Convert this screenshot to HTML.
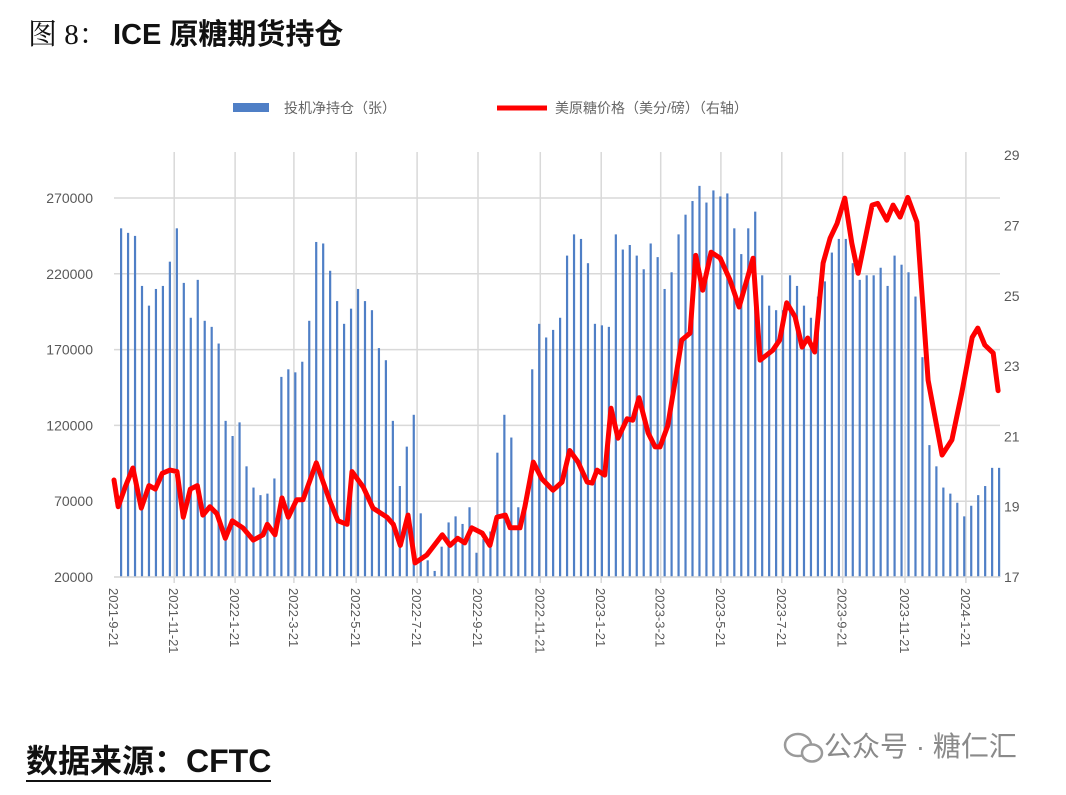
<!DOCTYPE html>
<html><head><meta charset="utf-8">
<style>
body{margin:0;background:#fff;width:1066px;height:790px;overflow:hidden;font-family:"Liberation Sans","Noto Sans CJK SC",sans-serif}
</style></head>
<body>
<svg id="c" width="1066" height="790" xmlns="http://www.w3.org/2000/svg">
<text x="28" y="44" font-size="29" fill="#111" font-family="'Liberation Serif','Noto Serif CJK SC',serif">图 8：</text>
<text x="113" y="44" font-size="29" font-weight="bold" fill="#111" font-family="'Liberation Sans','Noto Sans CJK SC',sans-serif">ICE 原糖期货持仓</text>
<g>
<rect x="233" y="103" width="36" height="9" fill="#4f7fc6"/>
<text x="284" y="113" font-size="14" fill="#666">投机净持仓（张）</text>
<line x1="497" y1="108" x2="547" y2="108" stroke="#ff0000" stroke-width="5"/>
<text x="555" y="113" font-size="14" fill="#666">美原糖价格（美分/磅）（右轴）</text>
</g>
<g id="grid"></g><g id="bars"></g><g id="line"></g><g id="axes"></g>
<text x="26" y="772" font-size="32" font-weight="bold" fill="#111">数据来源：CFTC</text>
<line x1="26" y1="781" x2="271" y2="781" stroke="#111" stroke-width="2"/>
<g fill="#9a9a9a">
<ellipse cx="798" cy="745" rx="13" ry="11" fill="none" stroke="#9a9a9a" stroke-width="2.5"/>
<ellipse cx="812" cy="753" rx="10" ry="8.5" fill="#fff" stroke="#9a9a9a" stroke-width="2.5"/>
<text x="824" y="756" font-size="28" fill="#8a8a8a">公众号 · 糖仁汇</text>
</g>
</svg>
<script>
const barValues=[250,247,245,212,199,210,212,228,250,214,191,216,189,185,174,123,113,122,93,79,74,75,85,152,157,155,162,189,241,240,222,202,187,197,210,202,196,171,163,123,80,106,127,62,31,24,40,56,60,55,66,36,45,50,102,127,112,66,70,157,187,178,183,
191,232,246,243,227,187,186,185,246,236,239,232,223,240,231,210,221,246,259,268,278,267,275,271,273,250,233,250,261,219,199,196,196,219,212,199,191,205,215,234,243,243,227,216,219,219,224,212,232,226,221,205,165,107,93,79,75,69,60,67,74,80,92,92];
const priceWeeks=[0,0.6,1.6,2.7,3.9,5,5.9,6.9,8,9,9.9,10.9,11.9,12.7,13.7,14.7,15.9,16.9,18.4,19.9,21.3,21.9,23,24,24.9,26.1,27,28.9,30.9,32,33.3,34,35.6,37,39,39.9,40.9,42,43,44.7,46.9,48,49.1,50.1,51.1,52.6,53.7,54.7,55.9,56.6,58,58.7,59.9,61.1,62.7,64,65.1,66.3,67.6,68.3,69,70.1,71,72,73.3,74.1,75,76.3,77.3,78,79.1,80.1,81.1,82.3,83.1,84.1,85.3,86.6,88,89.3,91.3,92.3,94.1,95.1,96.1,97.3,98.3,99.1,100.1,101.3,102.3,103.3,104.4,105.4,106.3,108.3,109.1,110.4,111.3,112.3,113.4,114.7,116.3,118.3,119.7,121.1,122.6,123.4,124.4,125.6,126.3];
const priceValues=[19.76,19.0,19.56,20.1,18.96,19.6,19.5,19.95,20.04,20.0,18.7,19.5,19.6,18.76,19.0,18.8,18.1,18.6,18.4,18.05,18.2,18.5,18.2,19.25,18.7,19.2,19.2,20.25,19.13,18.6,18.5,20.0,19.56,18.96,18.7,18.5,17.9,18.76,17.4,17.63,18.2,17.9,18.1,17.97,18.4,18.25,17.9,18.7,18.76,18.4,18.4,19.0,20.27,19.8,19.47,19.7,20.6,20.27,19.7,19.67,20.04,19.9,21.8,20.95,21.5,21.46,22.1,21.1,20.7,20.7,21.3,22.5,23.74,23.94,26.15,25.16,26.24,26.07,25.45,24.68,26.07,23.17,23.45,23.74,24.8,24.4,23.54,23.8,23.4,25.93,26.64,27.06,27.78,26.5,25.64,27.58,27.63,27.15,27.58,27.24,27.8,27.1,22.6,20.47,20.9,22.23,23.82,24.08,23.6,23.37,22.3];
const leftTicks=[20000,70000,120000,170000,220000,270000];
const rightTicks=[17,19,21,23,25,27,29];
const dateLabels=["2021-9-21","2021-11-21","2022-1-21","2022-3-21","2022-5-21","2022-7-21","2022-9-21","2022-11-21","2023-1-21","2023-3-21","2023-5-21","2023-7-21","2023-9-21","2023-11-21","2024-1-21"];
const dateWeeks=[0,8.6,17.3,25.7,34.6,43.3,52,60.9,69.6,78.1,86.7,95.4,104.1,113,121.7];

const NS="http://www.w3.org/2000/svg";
const X0=114,X1=1000,YB=577,YT=152;
const xW=w=>X0+w*7.0;
const yL=v=>YB-(v-20000)/50000*75.8;
const yR=v=>YB-(v-17)/2*70.3;
function mk(tag,attrs,parent){const e=document.createElementNS(NS,tag);for(const k in attrs)e.setAttribute(k,attrs[k]);parent.appendChild(e);return e;}
const grid=document.getElementById('grid'),bars=document.getElementById('bars'),line=document.getElementById('line'),axes=document.getElementById('axes');
leftTicks.forEach((t,i)=>{
  const y=yL(t);
  const g=mk('line',{x1:X0,x2:X1,y1:y,y2:y,stroke:'#d9d9d9','stroke-width':1.5},grid);
  
  
  const tx=mk('text',{x:93,y:y+5,'text-anchor':'end','font-size':14,fill:'#595959'},axes);
  tx.textContent=String(t);
  
  
});
rightTicks.forEach(t=>{
  const tx=mk('text',{x:1004,y:yR(t)+5,'font-size':14,fill:'#595959'},axes);
  tx.textContent=String(t);
  
  
});
dateLabels.forEach((d,i)=>{
  const x=xW(dateWeeks[i]);
  if(i>0){const g=mk('line',{x1:x,x2:x,y1:YT,y2:YB+6,stroke:'#d9d9d9','stroke-width':1.5},grid);
  
  }
  const tx=mk('text',{x:0,y:0,'font-size':13,fill:'#595959',transform:`translate(${x-5},588) rotate(90)`},axes);
  tx.textContent=d;
  
  
});
const ax=mk('line',{x1:X0,x2:X1,y1:YB,y2:YB,stroke:'#d9d9d9','stroke-width':1.5},axes);


const n=barValues.length;
barValues.forEach((v,i)=>{
  const x=121+i*(878/(n-1));
  const y=yL(v*1000);
  const r=mk('rect',{x:x-1,y:y,width:2.2,height:YB-y,fill:'#4f7fc6'},bars);
  
  
});
const pts=priceWeeks.map((w,i)=>xW(w).toFixed(1)+','+yR(priceValues[i]).toFixed(1)).join(' ');
const pl=mk('polyline',{points:pts,fill:'none',stroke:'#ff0000','stroke-width':5,'stroke-linejoin':'round','stroke-linecap':'round'},line);


</script>
</body></html>
